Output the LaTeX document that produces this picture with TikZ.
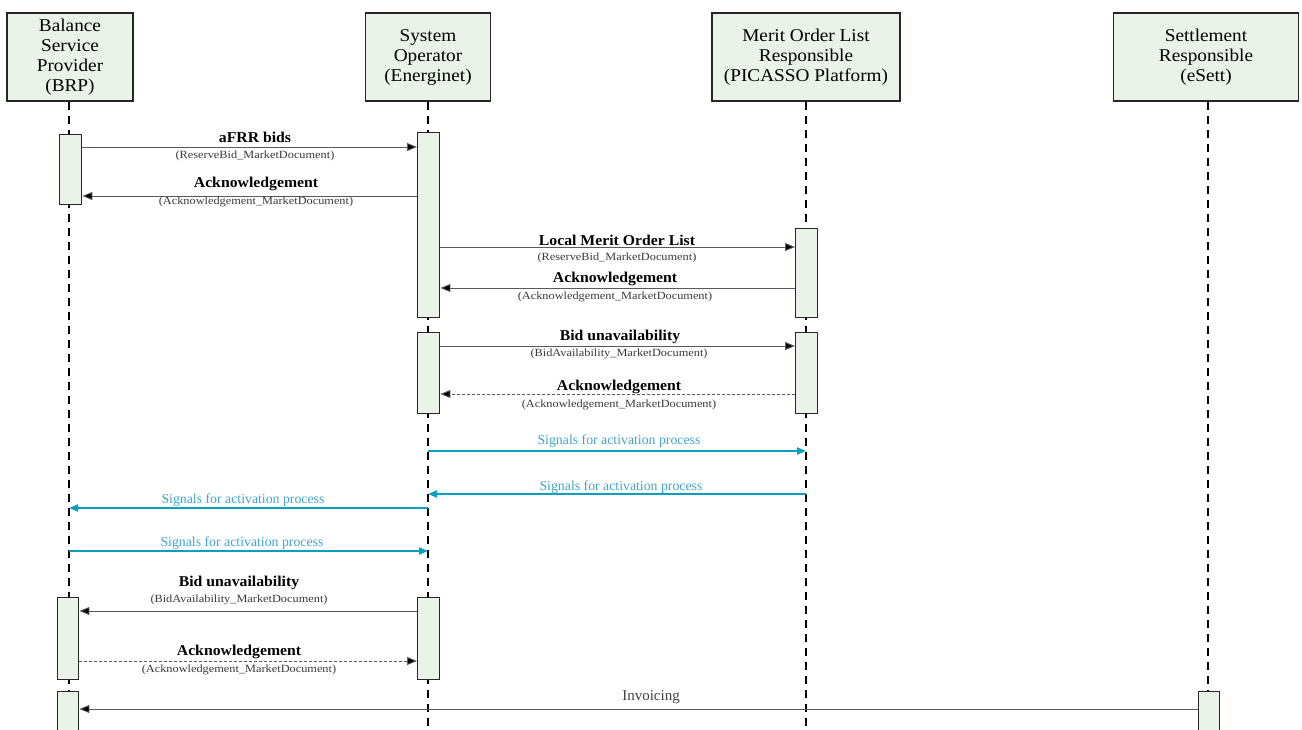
\documentclass[tikz,border=0pt]{standalone}
\usepackage{fontspec}
\setmainfont{Liberation Serif}
\newfontfamily\subf[FakeStretch=1.12]{Liberation Serif}
\newfontfamily\hdrf[FakeStretch=1.07]{Liberation Serif}
\newfontfamily\boldf[FakeStretch=1.05]{Liberation Serif Bold}
\usetikzlibrary{arrows.meta}
\definecolor{boxfill}{HTML}{EAF3E8}
\definecolor{sig}{HTML}{0A9FBF}
\definecolor{sigtxt}{HTML}{45A3C6}
\definecolor{subgray}{HTML}{3A3A3A}
\definecolor{msggray}{HTML}{5A5A5A}
\tikzset{
  x=1pt, y=-1pt,
  actor/.style={draw=black!85, line width=1.8pt, fill=boxfill, inner sep=0pt,
    align=center, font=\hdrf\fontsize{18}{20}\selectfont},
  actbox/.style={draw=black!85, line width=1.4pt, fill=boxfill, inner sep=0pt, anchor=north west},
  lifeline/.style={line width=2.2pt, dash pattern=on 8pt off 6pt},
  msg/.style={draw=msggray, line width=0.9pt, -{Triangle[length=10pt,width=8pt,fill=black]}},
  ackmsg/.style={msg, dash pattern=on 3pt off 2pt},
  sigmsg/.style={draw=sig, line width=2pt, -{Triangle[length=9pt,width=7pt]}},
  lbl/.style={font=\boldf\fontsize{15}{16}\selectfont, inner sep=0pt},
  sublbl/.style={font=\subf\fontsize{11}{12}\selectfont, text=subgray, inner sep=0pt},
  siglbl/.style={font=\fontsize{13.8}{15}\selectfont, text=sigtxt, inner sep=0pt},
  invlbl/.style={font=\fontsize{15}{16}\selectfont, text=black!75, inner sep=0pt},
}
\begin{document}
\begin{tikzpicture}
\useasboundingbox (0,0) rectangle (1302,729);
% headers
\node[actor, minimum width=126pt, minimum height=88pt] (brp) at (70,57) {Balance\\Service\\Provider\\(BRP)};
\node[actor, minimum width=125pt, minimum height=88pt] (so) at (428,57) {System\\Operator\\(Energinet)};
\node[actor, minimum width=188pt, minimum height=88pt] (mol) at (806,57) {Merit Order List\\Responsible\\(PICASSO Platform)};
\node[actor, minimum width=185pt, minimum height=88pt] (set) at (1206,57) {Settlement\\Responsible\\(eSett)};
% lifelines
\coordinate (brpE) at (69,729);
\coordinate (soE) at (428,729);
\coordinate (molE) at (806,729);
\coordinate (setE) at (1208,729);
\draw[lifeline] (brp.south -| brpE) -- (brpE);
\draw[lifeline] (so.south) -- (soE);
\draw[lifeline] (mol.south) -- (molE);
\draw[lifeline] (set.south -| setE) -- (setE);
% activation boxes
\node[actbox, minimum width=22pt, minimum height=70pt] (b1) at (59,134) {};
\node[actbox, minimum width=22pt, minimum height=185pt] (s1) at (417,132) {};
\node[actbox, minimum width=22pt, minimum height=89pt] (m1) at (795,228) {};
\node[actbox, minimum width=22pt, minimum height=81pt] (s2) at (417,332) {};
\node[actbox, minimum width=22pt, minimum height=81pt] (m2) at (795,332) {};
\node[actbox, minimum width=21pt, minimum height=82pt] (b2) at (57,597) {};
\node[actbox, minimum width=22pt, minimum height=82pt] (s3) at (417,597) {};
\node[actbox, minimum width=21pt, minimum height=40pt] (b3) at (57,691) {};
\node[actbox, minimum width=21pt, minimum height=40pt] (t1) at (1198,691) {};
% messages
\draw[msg] (b1.east |- 0,147) -- (s1.west |- 0,147);
\node[lbl] at (255,137) {aFRR bids};
\node[sublbl] at (255,156) {(ReserveBid\_MarketDocument)};
\draw[msg] (s1.west |- 0,196) -- (b1.east |- 0,196);
\node[lbl] at (256,184) {Acknowledgement};
\node[sublbl] at (256,202) {(Acknowledgement\_MarketDocument)};
\draw[msg] (s1.east |- 0,247) -- (m1.west |- 0,247);
\node[lbl] at (617,240) {Local Merit Order List};
\node[sublbl] at (617,258) {(ReserveBid\_MarketDocument)};
\draw[msg] (m1.west |- 0,288) -- (s1.east |- 0,288);
\node[lbl] at (615,279) {Acknowledgement};
\node[sublbl] at (615,297) {(Acknowledgement\_MarketDocument)};
\draw[msg] (s2.east |- 0,346) -- (m2.west |- 0,346);
\node[lbl] at (620,337) {Bid unavailability};
\node[sublbl] at (619,354) {(BidAvailability\_MarketDocument)};
\draw[ackmsg] (m2.west |- 0,394) -- (s2.east |- 0,394);
\node[lbl] at (619,387) {Acknowledgement};
\node[sublbl] at (619,405) {(Acknowledgement\_MarketDocument)};
% signals
\draw[sigmsg] (so.south |- 0,451) -- (mol.south |- 0,451);
\node[siglbl] at (619,441) {Signals for activation process};
\draw[sigmsg] (mol.south |- 0,494) -- (so.south |- 0,494);
\node[siglbl] at (621,487) {Signals for activation process};
\draw[sigmsg] (so.south |- 0,508) -- (brpE |- 0,508);
\node[siglbl] at (243,500) {Signals for activation process};
\draw[sigmsg] (brpE |- 0,551) -- (so.south |- 0,551);
\node[siglbl] at (242,543) {Signals for activation process};
% lower messages
\draw[msg] (s3.west |- 0,611) -- (b2.east |- 0,611);
\node[lbl] at (239,583) {Bid unavailability};
\node[sublbl] at (239,600) {(BidAvailability\_MarketDocument)};
\draw[ackmsg] (b2.east |- 0,661) -- (s3.west |- 0,661);
\node[lbl] at (239,652) {Acknowledgement};
\node[sublbl] at (239,670) {(Acknowledgement\_MarketDocument)};
\draw[msg] (t1.west |- 0,709) -- (b3.east |- 0,709);
\node[invlbl] at (651,697) {Invoicing};
\end{tikzpicture}
\end{document}
